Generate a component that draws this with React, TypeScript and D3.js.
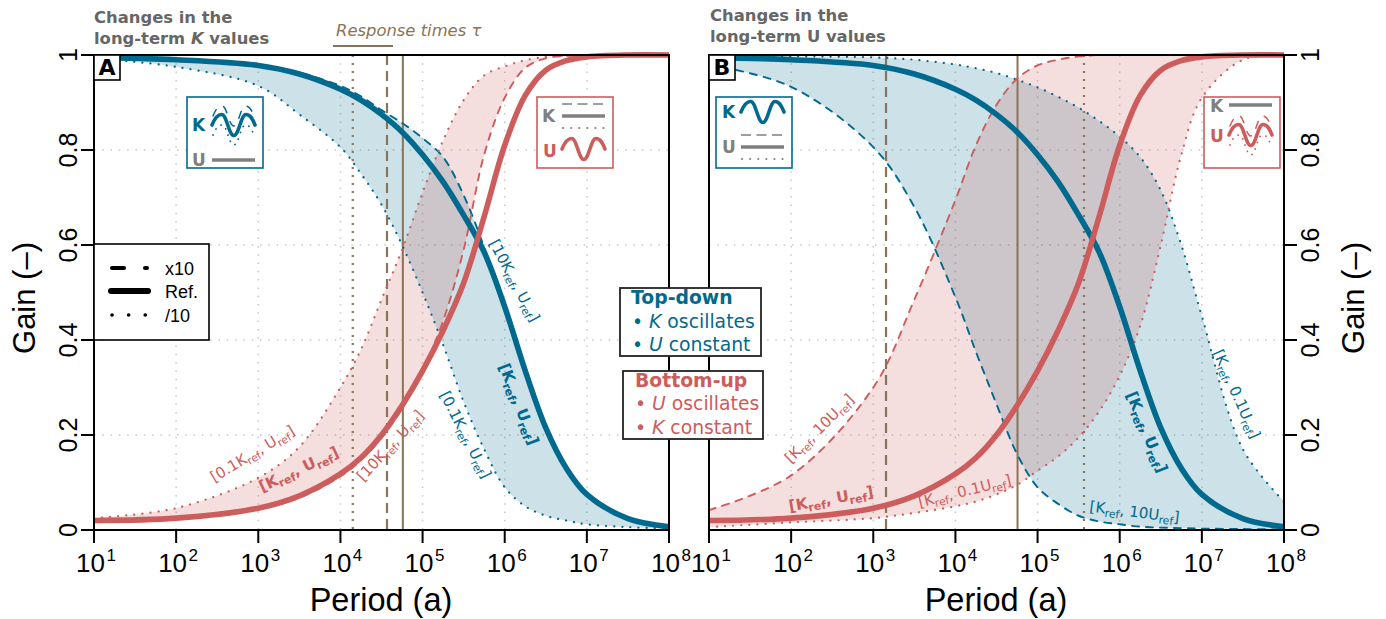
import React from "react";
import * as d3 from "d3";

const logPeriods = [1, 2, 3, 3.5, 4, 4.25, 4.5, 4.75, 5, 5.25, 5.5, 5.75, 6, 6.25, 6.5, 6.75, 7, 7.5, 8];
const blueRef = [.995, .99, .978, .96, .928, .905, .875, .838, .79, .733, .663, .585, .47, .335, .215, .13, .075, .024, .007];
const redRef = [.02, .025, .046, .072, .118, .152, .2, .262, .335, .42, .52, .66, .81, .915, .968, .988, .996, 1, 1];
const blueDashA = [.995, .99, .98, .963, .935, .913, .884, .857, .825, .785, .705, .595, .47, .335, .215, .13, .075, .024, .007];
const blueDotA = [.993, .975, .935, .875, .806, .75, .685, .6, .5, .39, .27, .17, .09, .05, .03, .02, .012, .006, .003];
const redDashA = [.02, .025, .044, .068, .113, .147, .194, .255, .335, .44, .59, .79, .91, .973, .993, .998, 1, 1, 1];
const redDotA = [.025, .046, .11, .175, .3, .38, .485, .59, .71, .82, .905, .957, .976, .989, .996, .999, 1, 1, 1];
const blueDotB = [.998, .997, .995, .99, .98, .972, .962, .948, .932, .912, .889, .861, .828, .785, .715, .6, .45, .17, .06];
const blueDashB = [.98, .933, .806, .68, .49, .375, .265, .16, .09, .055, .03, .018, .012, .007, .005, .004, .003, .002, .001];
const redDashB = [.042, .115, .3, .485, .695, .81, .895, .95, .978, .99, .997, 1, 1, 1, 1, 1, 1, 1, 1];
const redDotB = [.006, .016, .025, .036, .05, .06, .075, .095, .125, .155, .195, .25, .325, .43, .6, .79, .91, .99, 1];
const yTicks = [0, .2, .4, .6, .8, 1];
const xExps = [1, 2, 3, 4, 5, 6, 7, 8];
const responseA = { dotted: 4.15, dashed: 4.567, solid: 4.76 };
const responseB = { dashed: 3.155, solid: 4.756, dotted: 5.565 };

const BLUE = "#006a8e";
const RED = "#cd5c5c";
const BROWN = "#8b7355";
const GREY = "#808080";
const SANS = "'Liberation Sans', Arial, sans-serif";
const DJ = "'DejaVu Sans', sans-serif";
const TOP = 55, BOT = 530, W = 575;
const DASH = "7 7";
const DOT = "0.1 8";
const CURVE = d3.curveCatmullRom.alpha(0.5);

const y = d3.scaleLinear().domain([0, 1]).range([BOT, TOP]).clamp(true);
const curveFor = (vals: number[], x: d3.ScaleLinear<number, number>) =>
  d3.line<number>().x((_, i) => x(logPeriods[i])).y(v => y(v)).curve(CURVE)(vals) as string;
const bandFor = (hi: number[], lo: number[], x: d3.ScaleLinear<number, number>) =>
  d3.area<number>().x((_, i) => x(logPeriods[i])).y1(v => y(v)).y0((_, i) => y(lo[i])).curve(CURVE)(hi) as string;

type Part = [string, ("b" | "s" | "i")?];
const refLabel = (a: string, b: string): Part[] => [[`[${a}K`], ["ref", "s"], [`, ${b}U`], ["ref", "s"], ["]"]];

function Rot({ x, y: yy, a, fs, color, bold, parts }: { x: number; y: number; a: number; fs: number; color: string; bold?: boolean; parts: Part[] }) {
  let down = false;
  return (
    <text transform={`translate(${x},${yy}) rotate(${a})`} fontFamily={DJ} fontSize={fs} fontWeight={bold ? 700 : 400} fill={color} textAnchor="middle">
      {parts.map((p, i) => {
        const s = p[1] === "s";
        const dy = s ? fs * 0.22 : down ? -fs * 0.22 : 0;
        down = s;
        return <tspan key={i} dy={dy} fontSize={s ? fs * 0.72 : fs}>{p[0]}</tspan>;
      })}
    </text>
  );
}

function wave(x0: number, mid: number, w: number, amp: number) {
  const p1 = x0 + w * 0.225, p2 = x0 + w * 0.79, t = (p1 + p2) / 2, e = x0 + w;
  const k = (t - p1) * 0.42;
  const q = (p1 - x0) * 0.45;
  return `M${x0},${mid} C${x0 + q * 0.6},${mid - amp * 0.62} ${p1 - q},${mid - amp} ${p1},${mid - amp} C${p1 + k},${mid - amp} ${t - k},${mid + amp} ${t},${mid + amp} C${t + k},${mid + amp} ${p2 - k},${mid - amp} ${p2},${mid - amp} C${p2 + q},${mid - amp} ${e - q * 0.6},${mid - amp * 0.62} ${e},${mid}`;
}

function Waves({ x, mid, color, thin }: { x: number; mid: number; color: string; thin?: boolean }) {
  return (
    <g fill="none" strokeLinecap="round">
      <path d={wave(x, mid, 43, 10.5)} stroke={color} strokeWidth={3.6} />
      {thin && <path d={wave(x + 1, mid - 9, 41, 10)} stroke={color} strokeWidth={1.5} strokeDasharray="7 9" />}
      {thin && <path d={wave(x + 1, mid + 10, 41, 10)} stroke={color} strokeWidth={1.8} strokeDasharray="0.1 6.5" />}
    </g>
  );
}

function Flat({ x, mid, thin }: { x: number; mid: number; thin?: boolean }) {
  return (
    <g stroke={GREY} strokeLinecap="butt">
      <line x1={x} x2={x + 43} y1={mid} y2={mid} strokeWidth={3.6} />
      {thin && <line x1={x} x2={x + 43} y1={mid - 12} y2={mid - 12} strokeWidth={1.5} strokeDasharray="10 5.5" />}
      {thin && <line x1={x + 1} x2={x + 43} y1={mid + 12} y2={mid + 12} strokeWidth={2} strokeDasharray="0.1 8" strokeLinecap="round" />}
    </g>
  );
}

function IconBox({ x, yy, w, h, color }: { x: number; yy: number; w: number; h: number; color: string }) {
  return <rect x={x} y={yy} width={w} height={h} fill="#fff" stroke={color} strokeWidth={1.6} />;
}

function Panel({ left, letter, bands, thin, resp, side, children }: any) {
  const x = d3.scaleLinear().domain([1, 8]).range([left, left + W]);
  return (
    <g>
      <g stroke="#c8c8c8" strokeWidth={1.5} strokeDasharray="1.5 6.8">
        {xExps.slice(1, -1).map(e => <line key={e} x1={x(e)} x2={x(e)} y1={TOP} y2={BOT} />)}
        {yTicks.slice(1, -1).map(t => <line key={t} x1={left} x2={left + W} y1={y(t)} y2={y(t)} />)}
      </g>
      <path d={bandFor(bands[0][0], bands[0][1], x)} fill={BLUE} fillOpacity={0.2} />
      <path d={bandFor(bands[1][0], bands[1][1], x)} fill={RED} fillOpacity={0.2} />
      <g stroke={BROWN}>
        <line x1={x(resp.dotted)} x2={x(resp.dotted)} y1={TOP} y2={BOT} strokeWidth={2.2} strokeDasharray="2 6" />
        <line x1={x(resp.dashed)} x2={x(resp.dashed)} y1={TOP} y2={BOT} strokeWidth={2.2} strokeDasharray="10 6" />
        <line x1={x(resp.solid)} x2={x(resp.solid)} y1={TOP} y2={BOT} strokeWidth={2} />
      </g>
      <g fill="none" strokeLinecap="round">
        {thin.map((c: any, i: number) => (
          <path key={i} d={curveFor(c[0], x)} stroke={c[1]} strokeDasharray={c[2]} strokeWidth={c[2] === DOT ? 2.2 : 1.9} />
        ))}
      </g>
      <path d={curveFor(blueRef, x)} fill="none" stroke={BLUE} strokeWidth={5.6} />
      <path d={curveFor(redRef, x)} fill="none" stroke={RED} strokeWidth={5.6} />
      <rect x={left} y={TOP} width={W} height={BOT - TOP} fill="none" stroke="#000" strokeWidth={2} />
      {xExps.map(e => (
        <g key={e}>
          <line x1={x(e)} x2={x(e)} y1={BOT} y2={BOT + 13} stroke="#000" strokeWidth={2} />
          <text x={x(e) - 18} y={572} fontFamily={SANS} fontSize={26}>10<tspan fontSize={17} dx={1.5} dy={-11}>{e}</tspan></text>
        </g>
      ))}
      {yTicks.map(t => {
        const sx = side === "left" ? left : left + W;
        const d = side === "left" ? -13 : 13;
        const tx = side === "left" ? left - 17 : left + W + 35;
        return (
          <g key={t}>
            <line x1={sx} x2={sx + d} y1={y(t)} y2={y(t)} stroke="#000" strokeWidth={2} />
            <text transform={`translate(${tx},${y(t)}) rotate(-90)`} fontFamily={SANS} fontSize={25} textAnchor="middle">{t}</text>
          </g>
        );
      })}
      <text x={left + 287} y={611} fontFamily={SANS} fontSize={32.5} textAnchor="middle">Period (a)</text>
      <rect x={left} y={TOP} width={26} height={25} fill="#fff" stroke="#000" strokeWidth={1.6} />
      <text x={left + 13} y={TOP + 20} fontFamily={DJ} fontWeight={700} fontSize={22} textAnchor="middle">{letter}</text>
      {children}
    </g>
  );
}

const ICON_FS = 17;

export default function App() {
  return (
    <svg width={1386} height={619} style={{ position: "absolute", left: 0, top: 0, background: "#fff" }}>
      <Panel left={94} letter="A" side="left" resp={responseA}
        bands={[[blueDashA, blueDotA], [redDotA, redDashA]]}
        thin={[[blueDashA, BLUE, DASH], [blueDotA, BLUE, DOT], [redDashA, RED, DASH], [redDotA, RED, DOT]]}>
        <IconBox x={187} yy={97} w={76} h={71} color={BLUE} />
        <text x={192} y={131} fontFamily={DJ} fontWeight={700} fontSize={ICON_FS} fill={BLUE}>K</text>
        <Waves x={212} mid={125} color={BLUE} thin />
        <text x={192} y={166} fontFamily={DJ} fontWeight={700} fontSize={ICON_FS} fill={GREY}>U</text>
        <line x1={212} x2={255} y1={160} y2={160} stroke={GREY} strokeWidth={3.6} />
        <IconBox x={537} yy={97} w={76} h={71} color={RED} />
        <text x={542} y={122} fontFamily={DJ} fontWeight={700} fontSize={ICON_FS} fill={GREY}>K</text>
        <Flat x={562} mid={116} thin />
        <text x={543} y={157} fontFamily={DJ} fontWeight={700} fontSize={ICON_FS} fill={RED}>U</text>
        <Waves x={562} mid={149} color={RED} />
        <rect x={94} y={244} width={115} height={96} fill="#fff" stroke="#000" strokeWidth={1.6} />
        <g stroke="#000" strokeLinecap="round" fill="none">
          <line x1={112} x2={124} y1={268} y2={268} strokeWidth={4} />
          <line x1={145} x2={147} y1={268} y2={268} strokeWidth={4} />
          <line x1={111} x2={148} y1={291} y2={291} strokeWidth={6} />
          <line x1={112} x2={148} y1={315} y2={315} strokeWidth={3.6} strokeDasharray="0.1 16.5" />
        </g>
        <g fontFamily={SANS} fontSize={18}>
          <text x={165} y={275}>x10</text>
          <text x={165} y={298}>Ref.</text>
          <text x={165} y={322}>/10</text>
        </g>
        <Rot x={510} y={283} a={62} fs={15} color={BLUE} parts={refLabel("10", "")} />
        <Rot x={461} y={437} a={63} fs={15} color={BLUE} parts={refLabel("0.1", "")} />
        <Rot x={514} y={406} a={69} fs={15.5} color={BLUE} bold parts={refLabel("", "")} />
        <Rot x={255} y={458} a={-31} fs={15} color={RED} parts={refLabel("0.1", "")} />
        <Rot x={301} y={474} a={-25} fs={15.5} color={RED} bold parts={refLabel("", "")} />
        <Rot x={394} y={449} a={-47} fs={15} color={RED} parts={refLabel("10", "")} />
      </Panel>
      <Panel left={709} letter="B" side="right" resp={responseB}
        bands={[[blueDotB, blueDashB], [redDashB, redDotB]]}
        thin={[[blueDashB, BLUE, DASH], [blueDotB, BLUE, DOT], [redDashB, RED, DASH], [redDotB, RED, DOT]]}>
        <IconBox x={716} yy={97} w={76} h={71} color={BLUE} />
        <text x={722} y={118} fontFamily={DJ} fontWeight={700} fontSize={ICON_FS} fill={BLUE}>K</text>
        <Waves x={741} mid={112} color={BLUE} />
        <text x={722} y={153} fontFamily={DJ} fontWeight={700} fontSize={ICON_FS} fill={GREY}>U</text>
        <Flat x={741} mid={147} thin />
        <IconBox x={1204} yy={97} w={76} h={71} color={RED} />
        <text x={1210} y={112} fontFamily={DJ} fontWeight={700} fontSize={ICON_FS} fill={GREY}>K</text>
        <line x1={1229} x2={1272} y1={105} y2={105} stroke={GREY} strokeWidth={3.6} />
        <text x={1210} y={142} fontFamily={DJ} fontWeight={700} fontSize={ICON_FS} fill={RED}>U</text>
        <Waves x={1229} mid={135} color={RED} thin />
        <Rot x={1232} y={396} a={66} fs={15} color={BLUE} parts={refLabel("", "0.1")} />
        <Rot x={1142} y={434} a={68} fs={15.5} color={BLUE} bold parts={refLabel("", "")} />
        <Rot x={1134} y={517} a={7} fs={15} color={BLUE} parts={refLabel("", "10")} />
        <Rot x={823} y={432} a={-45} fs={15} color={RED} parts={refLabel("", "10")} />
        <Rot x={832} y={504} a={-10} fs={15.5} color={RED} bold parts={refLabel("", "")} />
        <Rot x={966} y={496} a={-14} fs={15} color={RED} parts={refLabel("", "0.1")} />
      </Panel>

      <text transform="translate(35,298) rotate(-90)" fontFamily={SANS} fontSize={31} textAnchor="middle">Gain (–)</text>
      <text transform="translate(1364,298) rotate(-90)" fontFamily={SANS} fontSize={31} textAnchor="middle">Gain (–)</text>

      <g fontFamily={DJ} fontWeight={700} fontSize={16.4} fill="#666">
        <text x={94} y={23}>Changes in the</text>
        <text x={94} y={44}>long-term <tspan fontStyle="italic">K</tspan> values</text>
        <text x={710} y={21}>Changes in the</text>
        <text x={710} y={42}>long-term U values</text>
      </g>
      <text x={336} y={36} fontFamily={DJ} fontStyle="italic" fontSize={16.4} fill={BROWN}>Response times τ</text>
      <line x1={333} x2={393} y1={46} y2={46} stroke={BROWN} strokeWidth={2} />

      <rect x={620} y={288} width={141} height={68} fill="#fff" stroke="#222" strokeWidth={1.8} />
      <g fontFamily={DJ} fontSize={18.8} fill={BLUE}>
        <text x={631} y={304} fontWeight={700}>Top-down</text>
        <text x={632} y={328}>• <tspan fontStyle="italic">K</tspan> oscillates</text>
        <text x={632} y={351}>• <tspan fontStyle="italic">U</tspan> constant</text>
      </g>
      <rect x={623} y={371} width={140} height={68} fill="#fff" stroke="#222" strokeWidth={1.8} />
      <g fontFamily={DJ} fontSize={18.8} fill={RED}>
        <text x={635} y={387} fontWeight={700}>Bottom-up</text>
        <text x={635} y={410}>• <tspan fontStyle="italic">U</tspan> oscillates</text>
        <text x={635} y={434}>• <tspan fontStyle="italic">K</tspan> constant</text>
      </g>
    </svg>
  );
}
